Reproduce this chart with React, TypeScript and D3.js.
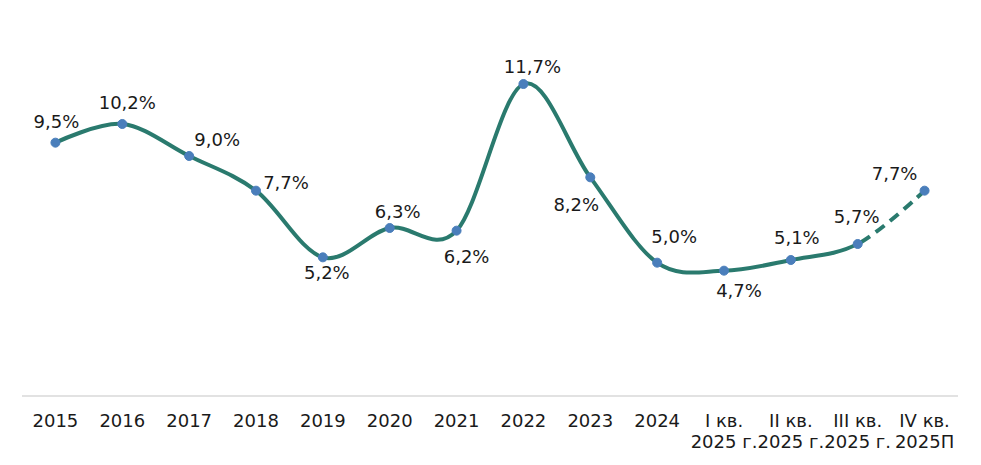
import { useMemo } from "react";
import * as d3 from "d3";

const WIDTH = 981;
const HEIGHT = 465;
const MARGIN = { top: 0, right: 23, bottom: 69, left: 22 };

const CATEGORIES = [
  ["2015"], ["2016"], ["2017"], ["2018"], ["2019"], ["2020"], ["2021"],
  ["2022"], ["2023"], ["2024"],
  ["I кв.", "2025 г."], ["II кв.", "2025 г."], ["III кв.", "2025 г."], ["IV кв.", "2025П"],
];
const VALUES = [9.5, 10.2, 9.0, 7.7, 5.2, 6.3, 6.2, 11.7, 8.2, 5.0, 4.7, 5.1, 5.7, 7.7];
const LABELS = ["9,5%", "10,2%", "9,0%", "7,7%", "5,2%", "6,3%", "6,2%", "11,7%", "8,2%", "5,0%", "4,7%", "5,1%", "5,7%", "7,7%"];
// label offsets from point (dx, dy) in px
const LABEL_OFFSETS: [number, number][] = [
  [1, -20], [5, -20], [28, -15], [30, -7], [4, 17], [8, -15], [10, 27], [9, -16],
  [-14, 29], [17, -25], [15, 21], [6, -21], [-1, -26], [-30, -16],
];
const FORECAST_FROM = 12;

const LINE_COLOR = "#2A7A6E";
const MARKER_FILL = "#4A7EBB";
const FONT = "'DejaVu Sans', Verdana, sans-serif";

export default function App() {
  const boundsWidth = WIDTH - MARGIN.left - MARGIN.right;
  const boundsHeight = HEIGHT - MARGIN.top - MARGIN.bottom;

  const xScale = useMemo(
    () => d3.scaleBand<number>().domain(d3.range(CATEGORIES.length)).range([0, boundsWidth]),
    [boundsWidth]
  );
  const yScale = useMemo(
    () => d3.scaleLinear().domain([0, 14.85]).range([boundsHeight, 0]),
    [boundsHeight]
  );

  const cx = (i: number) => xScale(i)! + xScale.bandwidth() / 2;

  const path = d3
    .line<number>()
    .x((_, i) => cx(i))
    .y((d) => yScale(d))
    .curve(d3.curveCardinal.tension(0))(VALUES)!;

  const splitX = cx(FORECAST_FROM);

  return (
    <svg width={WIDTH} height={HEIGHT} style={{ position: "absolute", left: 0, top: 0 }}>
      <defs>
        <clipPath id="solid-part">
          <rect x={-10} y={-50} width={splitX + 10} height={boundsHeight + 100} />
        </clipPath>
        <clipPath id="dash-part">
          <rect x={splitX} y={-50} width={boundsWidth} height={boundsHeight + 100} />
        </clipPath>
      </defs>
      <g transform={`translate(${MARGIN.left},${MARGIN.top})`}>
        <line x1={0} x2={boundsWidth} y1={yScale(0)} y2={yScale(0)} stroke="#d9d9d9" strokeWidth={1.5} />
        {CATEGORIES.map((lines, i) => (
          <text key={i} x={cx(i)} y={yScale(0) + 31} textAnchor="middle" fontFamily={FONT} fontSize={18} fill="#1a1a1a">
            {lines.map((l, j) => (
              <tspan key={j} x={cx(i)} dy={j === 0 ? 0 : 21}>{l}</tspan>
            ))}
          </text>
        ))}
        <path d={path} fill="none" stroke={LINE_COLOR} strokeWidth={4} clipPath="url(#solid-part)" strokeLinecap="round" />
        <path d={path} fill="none" stroke={LINE_COLOR} strokeWidth={4} strokeDasharray="11 7" clipPath="url(#dash-part)" />
        {VALUES.map((v, i) => (
          <circle key={i} cx={cx(i)} cy={yScale(v)} r={4.5} fill={MARKER_FILL} stroke={MARKER_FILL} strokeWidth={1} />
        ))}
        {VALUES.map((v, i) => (
          <text
            key={i}
            x={cx(i) + LABEL_OFFSETS[i][0]}
            y={yScale(v) + LABEL_OFFSETS[i][1]}
            textAnchor="middle"
            dominantBaseline="middle"
            fontFamily={FONT}
            fontSize={18}
            fill="#1a1a1a"
          >
            {LABELS[i]}
          </text>
        ))}
      </g>
    </svg>
  );
}
